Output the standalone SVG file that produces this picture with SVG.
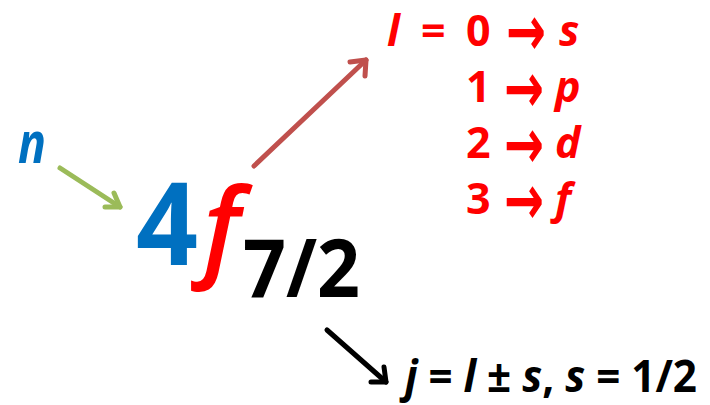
<svg xmlns="http://www.w3.org/2000/svg" width="710" height="405" viewBox="0 0 710 405">
<style>
text{font-family:"Open Sans","Liberation Sans",sans-serif;font-weight:bold}
.i{font-style:italic}
.red{fill:#ff0000}
.ar{font-family:"DejaVu Sans",sans-serif;font-size:70px}
.con{fill:none;stroke-width:5;stroke-linecap:round;stroke-linejoin:round}
</style>
<rect width="710" height="405" fill="#ffffff"/>
<g id="connectors">
<g stroke="#9bbb59" class="con"><path d="M60,168 L120,207"/><path d="M105,207 L120,207 L114,193"/></g>
<g stroke="#c0504d" class="con"><path d="M254,166 L366,60"/><path d="M350,62 L366,60 L365,76"/></g>
<g stroke="#000000" class="con"><path d="M327,330 L386,382"/><path d="M371,382 L386,382 L384,367"/></g>
</g>
<g id="n"><text x="18" y="163" font-size="58" fill="#0070c0" class="i" textLength="28" lengthAdjust="spacingAndGlyphs">n</text></g>
<g id="term">
<text x="136" y="265" font-size="114" fill="#0070c0" textLength="62" lengthAdjust="spacingAndGlyphs">4</text>
<text x="203" y="266" font-size="108" class="i red" style="font-weight:600">f</text>
<text x="243" y="297" font-size="80" fill="#000000" textLength="117" lengthAdjust="spacingAndGlyphs">7/2</text>
</g>
<g id="l-list" class="red">
<text x="387" y="46" font-size="43" class="i red">l</text>
<text x="421" y="46" font-size="43" class="red">=</text>
<text x="466" y="46" font-size="43" class="red">0</text>
<text x="506" y="55" class="red ar" textLength="40" lengthAdjust="spacingAndGlyphs">→</text>
<text x="559" y="46" font-size="43" class="i red">s</text>
<text x="466" y="102" font-size="43" class="red">1</text>
<text x="504" y="112" class="red ar" textLength="40" lengthAdjust="spacingAndGlyphs">→</text>
<text x="555" y="102" font-size="43" class="i red">p</text>
<text x="466" y="158" font-size="43" class="red">2</text>
<text x="504" y="168" class="red ar" textLength="40" lengthAdjust="spacingAndGlyphs">→</text>
<text x="555" y="158" font-size="43" class="i red">d</text>
<text x="466" y="214" font-size="43" class="red">3</text>
<text x="504" y="224" class="red ar" textLength="40" lengthAdjust="spacingAndGlyphs">→</text>
<text x="555" y="214" font-size="43" class="i red">f</text>
</g>
<g id="j-rule"><text x="405" y="392" font-size="44" fill="#000000" textLength="292" lengthAdjust="spacingAndGlyphs"><tspan class="i">j</tspan> = <tspan class="i">l</tspan> ± <tspan class="i">s</tspan>, <tspan class="i">s</tspan> = 1/2</text></g>
</svg>
